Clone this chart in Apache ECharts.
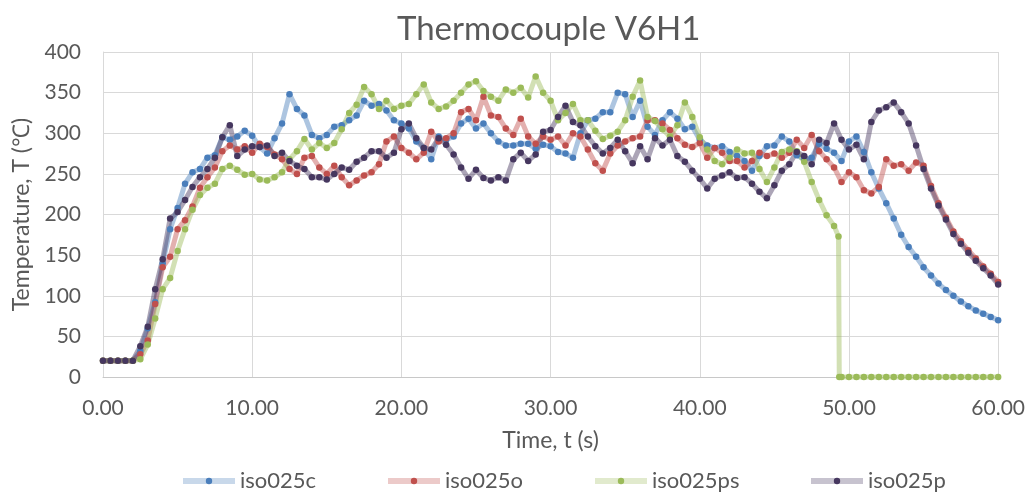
<!DOCTYPE html>
<html><head><meta charset="utf-8">
<script src="https://cdn.jsdelivr.net/npm/echarts@6/dist/echarts.min.js"></script>
<style>html,body{margin:0;padding:0;background:#fff}#c{width:1028px;height:496px}</style>
</head><body><div id="c"></div>
<script>
const times = [0,0.5,1,1.5,2,2.5,3,3.5,4,4.5,5,5.5,6,6.5,7,7.5,8,8.5,9,9.5,
10,10.5,11,11.5,12,12.5,13,13.5,14,14.5,15,15.5,16,16.5,17,17.5,18,18.5,19,19.5,
20,20.5,21,21.5,22,22.5,23,23.5,24,24.5,25,25.5,26,26.5,27,27.5,28,28.5,29,29.5,
30,30.5,31,31.5,32,32.5,33,33.5,34,34.5,35,35.5,36,36.5,37,37.5,38,38.5,39,39.5,
40,40.5,41,41.5,42,42.5,43,43.5,44,44.5,45,45.5,46,46.5,47,47.5,48,48.5,49,49.5,
50,50.5,51,51.5,52,52.5,53,53.5,54,54.5,55,55.5,56,56.5,57,57.5,58,58.5,59,59.5,60];

const iso025c = [20,20,20,20,20,32,60,92,140,182,208,238,252,256,270,273,295,292,296,303,
297,283,275,294,312,348,330,322,298,294,298,308,310,316,322,340,334,336,328,316,
312,306,290,282,268,296,292,296,312,318,306,312,300,290,285,285,287,287,281,286,
284,277,275,270,300,316,318,326,326,350,348,320,340,308,298,316,326,318,305,308,
292,285,282,284,277,272,266,254,272,284,285,296,290,273,268,270,287,281,276,266,
290,296,277,252,232,214,195,175,160,148,135,125,115,107,100,93,87,82,78,74,70];

const iso025o = [20,20,20,20,20,28,45,90,135,148,182,193,210,233,246,258,278,285,280,284,
276,287,283,274,268,256,250,270,272,258,250,260,246,236,242,248,252,262,290,296,
282,276,268,276,302,290,294,300,326,330,316,345,322,320,306,298,318,296,287,296,
292,296,285,300,296,280,263,254,275,285,290,294,296,316,316,312,304,294,286,283,
288,270,282,276,266,266,258,266,276,272,275,270,276,292,282,298,278,268,258,240,
252,246,230,226,234,268,260,262,254,264,260,235,214,196,179,167,156,146,136,127,117];

const iso025ps = [20,20,20,20,20,22,40,72,108,122,155,182,206,224,233,238,256,260,255,249,
250,243,242,246,252,268,278,293,280,288,282,288,305,325,335,357,348,330,340,330,
334,336,348,360,338,330,333,340,350,360,364,352,345,340,354,350,356,344,370,350,
340,316,325,336,316,316,303,293,297,302,316,345,365,320,315,305,296,310,338,320,
295,280,266,262,270,280,275,276,256,240,258,277,280,278,265,240,218,199,186,0,
0,0,0,0,0,0,0,0,0,0,0,0,0,0,0,0,0,0,0,0,0];
// last sensor reading of iso025ps before it drops out
const psDropTimes = [49.3, 49.35];
const psDropValues = [173, 0];

const iso025p = [20,20,20,20,20,38,62,108,145,195,203,218,234,246,256,270,295,310,272,280,
284,283,285,272,276,266,260,256,246,246,243,250,258,255,265,270,278,278,270,276,
305,312,294,282,280,294,286,274,258,244,255,245,242,246,242,268,276,266,274,302,
304,320,334,314,310,296,284,275,282,292,278,263,284,268,294,285,292,272,265,254,
244,232,244,248,252,245,246,238,228,220,236,254,262,277,272,262,292,288,312,292,
280,286,268,314,328,332,338,326,312,285,256,232,211,194,176,164,153,143,134,125,114];

const seriesNames = ['iso025c','iso025o','iso025ps','iso025p'];
const seriesColors = ['#4a7ebb','#c0504d','#9bbb59','#46375f'];
const seriesValues = [iso025c, iso025o, iso025ps, iso025p];
const legendLeft = [175, 380, 587, 803];

const FONT = 'Lato';
const TXT = '#595959';

function pairs(vals){ return times.map((t,i)=>[t, vals[i]]); }
const dataSets = seriesValues.map(pairs);
// insert the drop-out points for iso025ps
psDropTimes.forEach((t,i)=>dataSets[2].push([t, psDropValues[i]]));
dataSets[2].sort((a,b)=>a[0]-b[0]);

function hexA(hex,a){
  const n=parseInt(hex.slice(1),16);
  return 'rgba('+((n>>16)&255)+','+((n>>8)&255)+','+(n&255)+','+a+')';
}

const chart = echarts.init(document.getElementById('c'), null, {renderer:'canvas'});
chart.setOption({
  animation:false,
  backgroundColor:'#fff',
  title:{
    text:'Thermocouple V6H1', left:392, top:8,
    textStyle:{fontFamily:FONT, fontSize:33, fontWeight:'normal', color:TXT}
  },
  grid:{left:103, right:27, top:52, bottom:119, containLabel:false},
  legend: seriesNames.map((n,i)=>({
    data:[n], left:legendLeft[i], top:465, itemWidth:52, itemHeight:8, itemGap:0,
    textStyle:{fontFamily:FONT, fontSize:22, color:TXT},
    lineStyle:{width:6, color:hexA(seriesColors[i],0.3)}
  })),
  xAxis:{
    type:'value', min:0, max:60, interval:10,
    name:'Time, t (s)', nameLocation:'middle', nameGap:52,
    nameTextStyle:{fontFamily:FONT, fontSize:23, color:TXT},
    axisLine:{show:true, lineStyle:{color:'#c8c8c8', width:1}},
    axisTick:{show:false},
    axisLabel:{fontFamily:FONT, fontSize:21, color:TXT, margin:21, formatter:v=>v.toFixed(2)},
    splitLine:{show:true, lineStyle:{color:'#d9d9d9', width:1}}
  },
  yAxis:{
    type:'value', min:0, max:400, interval:50,
    name:'Temperature, T (℃)', nameLocation:'middle', nameGap:68, nameRotate:90,
    nameTextStyle:{fontFamily:FONT, fontSize:23, color:TXT},
    axisLine:{show:true, lineStyle:{color:'#d9d9d9', width:1}},
    axisTick:{show:false},
    axisLabel:{fontFamily:FONT, fontSize:21, color:TXT, margin:22},
    splitLine:{show:true, lineStyle:{color:'#d9d9d9', width:1}}
  },
  series: seriesNames.map((n,i)=>({
    name:n, type:'line', data:dataSets[i], clip:false,
    symbol:'circle', symbolSize:6.5, showSymbol:true,
    itemStyle:{color:seriesColors[i]},
    lineStyle:{color:hexA(seriesColors[i],0.45), width:5},
    emphasis:{disabled:true}
  }))
});
</script></body></html>
